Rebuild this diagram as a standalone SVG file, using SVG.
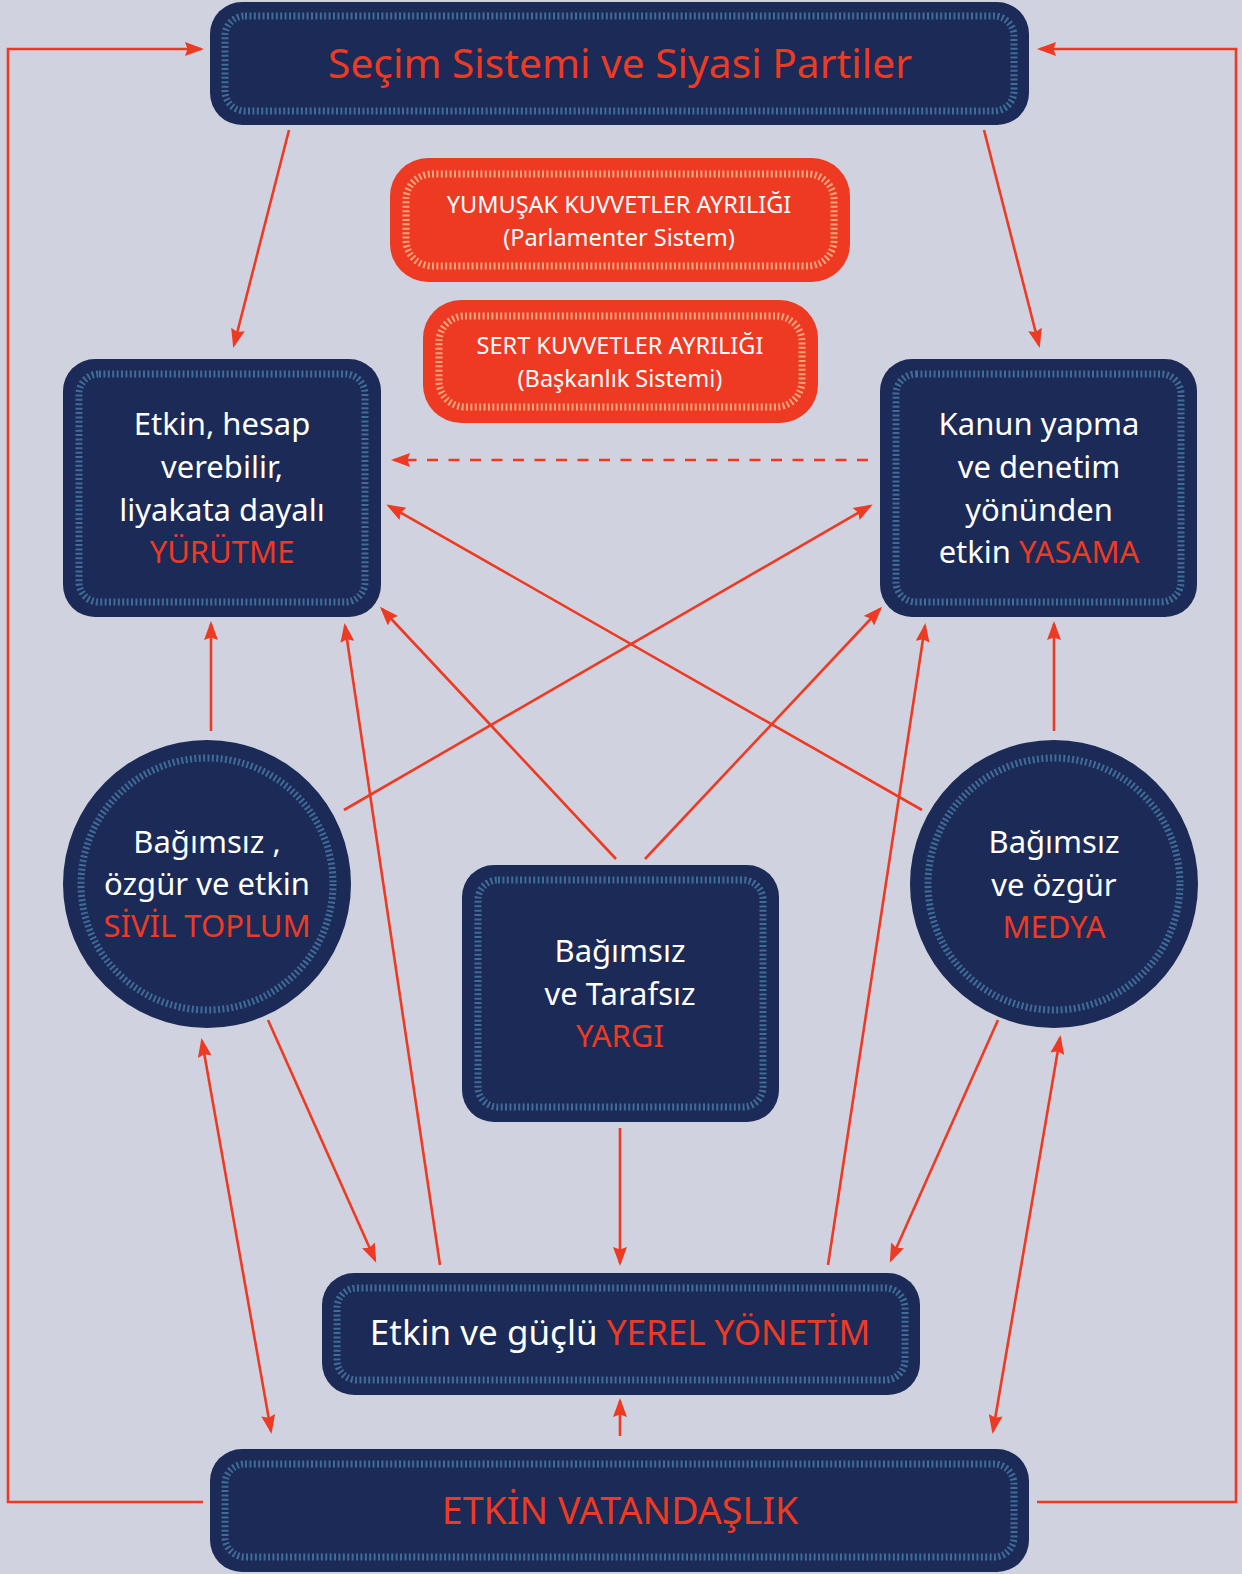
<svg xmlns="http://www.w3.org/2000/svg" width="1242" height="1574" viewBox="0 0 1242 1574">
<defs>
<style>
.node{fill:#1b2a56}
.hatch{fill:none;stroke:#3f6c98;stroke-width:7;stroke-dasharray:2 2.4}
.rnode{fill:#ee3a23}
.rhatch{fill:none;stroke:#f7a47c;stroke-width:7;stroke-dasharray:2 2.4}
.t{font-family:"Noto Sans","Open Sans",sans-serif;fill:#ffffff;text-anchor:middle}
.r{fill:#ee3a23}
.conn{stroke:#ee3a23;stroke-width:2.6;fill:none}
</style>
<marker id="ah" markerUnits="userSpaceOnUse" markerWidth="20" markerHeight="14" refX="16" refY="7" orient="auto-start-reverse" viewBox="0 0 19 14">
<path d="M0,0 L19,7 L0,14 L2.5,7 z" fill="#ee3a23"/>
</marker>
</defs>
<rect width="1242" height="1574" fill="#d0d3df"/>

<g id="connectors">
<polyline class="conn" points="203,1502 8,1502 8,49 201,49" marker-end="url(#ah)"/>
<polyline class="conn" points="1037,1502 1236,1502 1236,49 1040,49" marker-end="url(#ah)"/>
<line class="conn" x1="289" y1="130" x2="234" y2="345" marker-end="url(#ah)"/>
<line class="conn" x1="984" y1="130" x2="1039" y2="345" marker-end="url(#ah)"/>
<line class="conn" x1="868" y1="460" x2="394" y2="460" stroke-dasharray="11 10.5" marker-end="url(#ah)"/>
<line class="conn" x1="211" y1="731" x2="211" y2="624" marker-end="url(#ah)"/>
<line class="conn" x1="440" y1="1265" x2="345" y2="626" marker-end="url(#ah)"/>
<line class="conn" x1="616" y1="859" x2="382" y2="609" marker-end="url(#ah)"/>
<line class="conn" x1="922" y1="810" x2="389" y2="506" marker-end="url(#ah)"/>
<line class="conn" x1="344" y1="810" x2="870" y2="506" marker-end="url(#ah)"/>
<line class="conn" x1="645" y1="859" x2="880" y2="609" marker-end="url(#ah)"/>
<line class="conn" x1="828" y1="1265" x2="925" y2="626" marker-end="url(#ah)"/>
<line class="conn" x1="1054" y1="731" x2="1054" y2="624" marker-end="url(#ah)"/>
<line class="conn" x1="268" y1="1020" x2="375" y2="1260" marker-end="url(#ah)"/>
<line class="conn" x1="998" y1="1020" x2="891" y2="1260" marker-end="url(#ah)"/>
<line class="conn" x1="620" y1="1128" x2="620" y2="1263" marker-end="url(#ah)"/>
<line class="conn" x1="202" y1="1041" x2="271" y2="1431" marker-start="url(#ah)" marker-end="url(#ah)"/>
<line class="conn" x1="1060" y1="1038" x2="993" y2="1431" marker-start="url(#ah)" marker-end="url(#ah)"/>
<line class="conn" x1="620" y1="1436" x2="620" y2="1401" marker-end="url(#ah)"/>
</g>

<g id="secim">
<rect class="node" x="210" y="2" width="819" height="123" rx="32"/>
<rect class="hatch" x="225" y="16" width="789" height="95" rx="20"/>
<text class="t r" x="620" y="78" font-size="40.7">Seçim Sistemi ve Siyasi Partiler</text>
</g>

<g id="yumusak">
<rect class="rnode" x="390" y="158" width="460" height="124" rx="38"/>
<rect class="rhatch" x="406" y="174" width="428" height="92" rx="26"/>
<text class="t" x="619" y="213" font-size="23.5">YUMUŞAK KUVVETLER AYRILIĞI</text>
<text class="t" x="619" y="246" font-size="23.5">(Parlamenter Sistem)</text>
</g>

<g id="sert">
<rect class="rnode" x="423" y="300" width="395" height="123" rx="38"/>
<rect class="rhatch" x="439" y="316" width="363" height="91" rx="26"/>
<text class="t" x="620" y="354" font-size="23.5">SERT KUVVETLER AYRILIĞI</text>
<text class="t" x="620" y="387" font-size="23.5">(Başkanlık Sistemi)</text>
</g>

<g id="yurutme">
<rect class="node" x="63" y="359" width="318" height="258" rx="32"/>
<rect class="hatch" x="79" y="374" width="286" height="228" rx="20"/>
<text class="t" x="222" y="435" font-size="31">Etkin, hesap</text>
<text class="t" x="222" y="478" font-size="31">verebilir,</text>
<text class="t" x="222" y="521" font-size="31">liyakata dayalı</text>
<text class="t r" x="222" y="563" font-size="31">YÜRÜTME</text>
</g>

<g id="yasama">
<rect class="node" x="880" y="359" width="317" height="258" rx="32"/>
<rect class="hatch" x="896" y="374" width="285" height="228" rx="20"/>
<text class="t" x="1039" y="435" font-size="31">Kanun yapma</text>
<text class="t" x="1039" y="478" font-size="31">ve denetim</text>
<text class="t" x="1039" y="521" font-size="31">yönünden</text>
<text class="t" x="1039" y="563" font-size="31">etkin <tspan class="r">YASAMA</tspan></text>
</g>

<g id="sivil">
<circle class="node" cx="207" cy="884" r="144"/>
<circle class="hatch" cx="207" cy="884" r="126"/>
<text class="t" x="207" y="853" font-size="31">Bağımsız ,</text>
<text class="t" x="207" y="895" font-size="31">özgür ve etkin</text>
<text class="t r" x="207" y="937" font-size="31">SİVİL TOPLUM</text>
</g>

<g id="medya">
<circle class="node" cx="1054" cy="884" r="144"/>
<circle class="hatch" cx="1054" cy="884" r="126"/>
<text class="t" x="1054" y="853" font-size="31">Bağımsız</text>
<text class="t" x="1054" y="896" font-size="31">ve özgür</text>
<text class="t r" x="1054" y="938" font-size="31">MEDYA</text>
</g>

<g id="yargi">
<rect class="node" x="462" y="865" width="317" height="257" rx="32"/>
<rect class="hatch" x="478" y="880" width="285" height="227" rx="20"/>
<text class="t" x="620" y="962" font-size="31">Bağımsız</text>
<text class="t" x="620" y="1005" font-size="31">ve Tarafsız</text>
<text class="t r" x="620" y="1047" font-size="31">YARGI</text>
</g>

<g id="yerel">
<rect class="node" x="322" y="1273" width="598" height="122" rx="32"/>
<rect class="hatch" x="337" y="1288" width="568" height="92" rx="20"/>
<text class="t" x="620" y="1345" font-size="35">Etkin ve güçlü <tspan class="r">YEREL YÖNETİM</tspan></text>
</g>

<g id="vatandaslik">
<rect class="node" x="210" y="1449" width="819" height="123" rx="32"/>
<rect class="hatch" x="225" y="1464" width="789" height="93" rx="20"/>
<text class="t r" x="620" y="1524" font-size="37.6">ETKİN VATANDAŞLIK</text>
</g>
</svg>
